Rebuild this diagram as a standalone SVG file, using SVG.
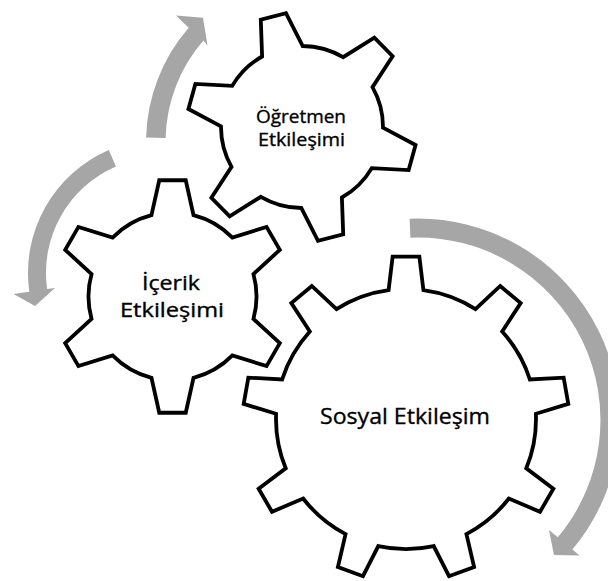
<svg xmlns="http://www.w3.org/2000/svg" width="608" height="581" viewBox="0 0 608 581">
<style>
.gear{fill:#ffffff;stroke:#000000;stroke-width:3.8;stroke-linejoin:miter}
.arrow{fill:#a6a6a6;stroke:none}
.lbl{font-family:"Open Sans","Liberation Sans",sans-serif;fill:#000000;stroke:#000000;stroke-width:0.35;text-anchor:middle}
</style>
<rect x="0" y="0" width="608" height="581" fill="#ffffff"/>
<g id="connectors">
<path class="arrow" d="M165.6,138.0 L146.1,137.4 A174,174 0 0 1 188.7,27.8 L176,15.5 L203,17.7 L207.5,45.5 L203.4,40.6 A154.5,154.5 0 0 0 165.6,138.0 Z"/>
<path class="arrow" d="M108.8,150.0 A134,134 0 0 0 29.3,291.7 L13.5,293.9 L35,306 L55.0,288.0 L47.1,289.1 A116,116 0 0 1 115.9,166.5 Z"/>
<path class="arrow" d="M410.4,237.7 L409.6,218.7 A201.5,201.5 0 0 1 572.4,549.5 L579.6,555.6 L554,555.1 L549,529.9 L557.8,537.3 A182.5,182.5 0 0 0 410.4,237.7 Z"/>
</g>
<g id="gear-ogretmen">
<path class="gear" d="M262.11,56.50 L260.79,19.64 L286.00,13.12 L302.71,46.00 A81,81 0 0 1 343.11,57.21 L374.37,37.63 L392.62,56.20 L372.50,87.11 A81,81 0 0 1 383.00,127.71 L415.58,144.99 L408.63,170.08 L371.79,168.11 A81,81 0 0 1 341.89,197.50 L343.21,234.36 L318.00,240.88 L301.29,208.00 A81,81 0 0 1 260.89,196.79 L229.63,216.37 L211.38,197.80 L231.50,166.89 A81,81 0 0 1 221.00,126.29 L188.42,109.01 L195.37,83.92 L232.21,85.89 A81,81 0 0 1 262.11,56.50 Z"/>
<text class="lbl" x="301" y="122.5" font-size="18" textLength="90" lengthAdjust="spacingAndGlyphs">Öğretmen</text>
<text class="lbl" x="301.5" y="145.5" font-size="18" textLength="87" lengthAdjust="spacingAndGlyphs">Etkileşimi</text>
</g>
<g id="gear-icerik">
<path class="gear" d="M151.47,215.18 L159.26,180.25 L185.74,180.25 L193.53,215.18 A84,84 0 0 1 232.41,237.62 L266.55,226.91 L279.80,249.85 L253.44,274.05 A84,84 0 0 1 253.44,318.95 L279.80,343.15 L266.55,366.09 L232.41,355.38 A84,84 0 0 1 193.53,377.82 L185.74,412.75 L159.26,412.75 L151.47,377.82 A84,84 0 0 1 112.59,355.38 L78.45,366.09 L65.20,343.15 L91.56,318.95 A84,84 0 0 1 91.56,274.05 L65.20,249.85 L78.45,226.91 L112.59,237.62 A84,84 0 0 1 151.47,215.18 Z"/>
<text class="lbl" x="171" y="290" font-size="20" textLength="58" lengthAdjust="spacingAndGlyphs">İçerik</text>
<text class="lbl" x="172" y="317" font-size="20" textLength="104" lengthAdjust="spacingAndGlyphs">Etkileşimi</text>
</g>
<g id="gear-sosyal">
<path class="gear" d="M388.58,290.17 L392.64,256.55 L419.36,256.55 L423.42,290.17 A130,130 0 0 1 475.47,309.12 L500.19,285.97 L520.67,303.16 L502.15,331.51 A130,130 0 0 1 529.85,379.48 L563.66,377.64 L568.30,403.94 L535.89,413.78 A130,130 0 0 1 526.28,468.33 L553.37,488.66 L540.01,511.79 L508.86,498.50 A130,130 0 0 1 466.43,534.10 L474.11,567.09 L449.01,576.22 L433.69,546.02 A130,130 0 0 1 378.31,546.02 L362.99,576.22 L337.89,567.09 L345.57,534.10 A130,130 0 0 1 303.14,498.50 L271.99,511.79 L258.63,488.66 L285.72,468.33 A130,130 0 0 1 276.11,413.78 L243.70,403.94 L248.34,377.64 L282.15,379.48 A130,130 0 0 1 309.85,331.51 L291.33,303.16 L311.81,285.97 L336.53,309.12 A130,130 0 0 1 388.58,290.17 Z"/>
<text class="lbl" x="405" y="424" font-size="22" textLength="170" lengthAdjust="spacingAndGlyphs">Sosyal Etkileşim</text>
</g>
</svg>
